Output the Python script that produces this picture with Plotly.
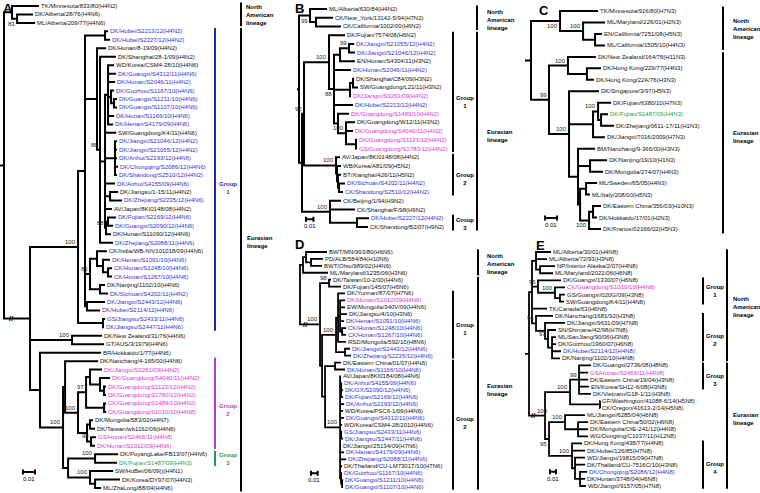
import plotly.graph_objects as go

FIG_W, FIG_H = 760, 493
FONT = "Liberation Sans, Arial, Helvetica, sans-serif"

# ---------------------------------------------------------------- data
LEAVES_A = [
    "TK/Minnesota/833/80(H4N2)", "DK/Alberta/28/76(H4N6)", "ML/Alberta/209/77(H4N6)",
    "DK/Hubei/S2213/12(H4N2)", "DK/Hubei/S2227/12(H4N2)", "DK/Hunan/8-19/09(H4N2)",
    "DK/Shanghai/28-1/09(H4N2)", "WD/Korea/CSM4-28/10(H4N6)", "DK/Guangxi/S4312/11(H4N6)",
    "DK/Hunan/S2046/11(H4N2)", "DK/Guizhou/S1167/10(H4N6)", "DK/Guangxi/S1211/10(H4N6)",
    "DK/Guangxi/S1107/10(H4N6)", "DK/Hunan/S1166/10(H4N6)", "DK/Henan/S4179/09(H4N6)",
    "SW/Guangdong/K4/11(H4N6)", "DK/Jiangxi/S21046/12(H4N2)", "DK/Jiangxi/S21055/12(H4N2)",
    "DK/Anhui/S2193/12(H4N6)", "DK/Chongqing/S2086/12(H4N6)", "DK/Shandong/S2510/12(H4N2)",
    "DK/Anhui/S4155/09(H4N6)", "DK/Jiangsu/1-15/11(H4N2)", "DK/Zhejiang/S2235/12(H4N6)",
    "AV/Japan/8KI0148/08(H4N2)", "DK/Fujian/S2169/12(H4N6)", "DK/Guangxi/S2090/12(H4N6)",
    "DK/Hunan/S11090/12(H4N6)", "DK/Zhejiang/S2088/11(H4N6)", "CK/India/WB-NIV101018/09(H4N6)",
    "DK/Henan/S1091/10(H4N6)", "CK/Hunan/S1248/10(H4N6)", "CK/Hunan/S1267/10(H4N6)",
    "DK/Nanjing/1102/10(H4N6)", "DK/Sichuan/S4202/11(H4N2)", "DK/Jiangxi/S2443/12(H4N6)",
    "DK/Hubei/S2114/12(H4N6)", "GS/Jiangsu/S2433/11(H4N6)", "DK/Jiangsu/S2447/11(H4N6)",
    "DK/New Zealand/31/76(H4N6)", "GT/AUS/3/1979(H4N6)", "BR/Hokkaido/1/77(H4N6)",
    "DK/Nanchang/4-165/00(H4N6)", "DK/Jiangxi/S3261/09(H4N2)", "DK/Guangdong/S4040/11(H4N2)",
    "DK/Guangdong/S1123/12(H4N2)", "DK/Guangdong/S1780/12(H4N2)", "CK/Guangdong/S1489/10(H4N2)",
    "CK/Guangdong/S1010/10(H4N8)", "DK/Mongolia/583/02(H4N7)", "DK/Taiwan/wb1162/06(H4N6)",
    "GS/Hunan/S2466/11(H4N8)", "DK/Hunan/S1012/09(H4N6)", "DK/PoyangLake/FB13/07(H4N6)",
    "DK/Fujian/S1487/09(H4N3)", "SW/HuBei/06/09()(H4N1)", "DK/Korea/DY97/07(H4N3)",
    "ML/ZhaLong/88/04(H4N6)",
]
COLORS_A = "kkkbbkkkbbbbbbbkbbbbbbkbkbbkbkbbbkbbbbbkkkkmmmmmmkkmmkgkkk"

LEAVES_B = [
    "ML/Alberta/630/84(H4N2)", "CK/New_York/13142-5/94(H7N2)", "CK/California/1002/00(H6N2)",
    "DK/Fujian/7574/08(H6N2)", "DK/Jiangxi/S21055/12(H4N2)", "DK/Jiangxi/S21046/12(H4N2)",
    "EN/Hunan/S4304/11(H3N2)", "DK/Hunan/S2046/11(H4N2)", "DK/Shanghai/C84/09(H3N2)",
    "SW/Guangdong/L21/11(H3N2)", "DK/Jiangxi/S3261/09(H4N2)", "DK/Hubei/S2213/12(H4N2)",
    "DK/Guangdong/S1489/10(H4N2)", "DK/Guangdong/W12/11(H3N2)", "DK/Guangdong/S4040/11(H4N2)",
    "DK/Guangdong/S1123/12(H4N2)", "GS/Guangdong/S1780/12(H4N2)", "AV/Japan/8KI0148/08(H4N2)",
    "WB/Korea/A81/09(H5N2)", "BT/Xianghai/426/11(H5N2)", "DK/Sichuan/S4202/11(H4N2)",
    "CK/Shandong/S2510/12(H4N2)", "CK/Beijing/1/94(H9N2)", "CK/Shanghai/F/98(H9N2)",
    "DK/Hubei/S2227/12(H4N2)", "CK/Shandong/B2/07(H9N2)",
]
COLORS_B = "kkkkbbkbkkmbmkmmmkkkbbkkbk"

LEAVES_C = [
    "TK/Minnesota/916/80(H7N3)", "ML/Maryland/226/01(H2N3)", "EN/California/7251/08(H5N3)",
    "ML/California/1505/10(H4N3)", "DK/New Zealand/164/76(H11N3)", "DK/Hong Kong/229/77(H4N3)",
    "DK/Hong Kong/22A/76(H3N3)", "DK/Singapore/3/97(H5N3)", "DK/Fujian/6380/10(H7N3)",
    "DK/Fujian/S1487/09(H4N3)", "DK/Zhejiang/0611-17/11(H1N3)", "DK/Jiangxi/7016/2009(H7N3)",
    "BM/Nanchang/9-366/00(H3N3)", "DK/Nanjing/19/10(H1N3)", "DK/Mongolia/274/07(H4N3)",
    "ML/Sweden/65/05(H4N3)", "ML/Italy/208/00(H5N3)", "DK/Eastern China/356/03(H10N3)",
    "DK/Hokkaido/17/01(H2N3)", "DK/France/02166/02(H5N3)",
]
COLORS_C = "kkkkkkkkkgkkkkkkkkkk"

LEAVES_D = [
    "BWT/MN/993/80(H6N6)", "PD/ALB/584/84(H10N6)", "BWT/Ohio/989/02(H4N6)",
    "ML/Maryland/1235/06(H3N6)", "DK/Taiwan/10-2/00(H4N6)", "DK/Fujian/145/07(H6N6)",
    "DK/Yunnan/87/07(H7N6)", "DK/Hunan/S1012/09(H4N6)", "EW/Mongolia/340V/09(H4N6)",
    "DK/Jiangsu/4/10(H3N6)", "DK/Henan/S1091/10(H4N6)", "CK/Hunan/S1248/10(H4N6)",
    "CK/Hunan/S1267/10(H4N6)", "RSD/Mongolia/592/10(H8N6)", "DK/Jiangxi/S2443/12(H4N6)",
    "DK/Zhejiang/S2235/12(H4N6)", "DK/Eastern China/01/07(H4N6)", "DK/Hunan/S1166/10(H4N6)",
    "AV/Japan/8KI0184/08(H4N6)", "DK/Anhui/S4155/09(H4N6)", "DK/GX/S2090/12(H4N6)",
    "DK/Fujian/S2169/12(H4N6)", "DK/Anhui/S2193/12(H4N6)", "WD/Korea/PSC6-1/09(H4N6)",
    "DK/Guangxi/S4312/11(H4N6)", "WD/Korea/CSM4-28/2010(H4N6)", "GS/Jiangsu/S2433/11(H4N6)",
    "DK/Jiangsu/S2447/11(H4N6)", "DK/Jiangxi/25134/09(H7N6)", "DK/Henan/S4179/09(H4N6)",
    "DK/Zhejiang/S2088/11(H4N6)", "DK/Thailand/CU-LM7301T/10(H7N6)", "DK/Guizhou/S1167/10(H4N6)",
    "DK/Guangxi/S1211/10(H4N6)", "DK/Guangxi/S1107/10(H4N6)",
]
COLORS_D = "kkkkkkkmkkbbbkbbkbkbbbbkbkbbkbbkbbb"

LEAVES_E = [
    "ML/Alberta/30/01(H4N8)", "ML/Alberta/72/93(H3N8)", "NP/Interior Alaska/2/07(H4N8)",
    "ML/Maryland/2022/06(H6N8)", "DK/Guangxi/1330/07(H6N8)", "CK/Guangdong/S1010/10(H4N8)",
    "GS/Guangxi/020G/09(H3N8)", "SW/Guangdong/K4/11(H4N8)", "TK/Canada/63(H6N8)",
    "DK/Nanchang/1681/92(H3N8)", "DK/Jiangxi/9631/09(H7N8)", "SN/Shimane/42/98(H7N8)",
    "ML/SanJiang/90/06(H3N8)", "DK/Guizhou/1960/07(H6N8)", "DK/Hubei/S2114/12(H4N8)",
    "DK/Nanjing/1102/10(H4N8)", "DK/Guangxi/2736/08(H8N8)", "GS/Hunan/S2466/11(H4N8)",
    "DK/Eastern China/19/04(H3N8)", "EN/Korea/SH12-6/08(H3N8)", "DK/Vietnam/G18-1/11(H3N8)",
    "GF/Washington/41088-6/14(H5N8)", "CK/Oregon/41613-2/14(H5N8)", "ML/Jiangxi/6285/04(H6N8)",
    "DK/Eastern China/50/02(H6N8)", "DK/Mongolia/OIE-241/12(H4N8)", "WG/Dongting/C1037/11(H12N8)",
    "DK/Hong Kong/438/77(H4N8)", "DK/Hubei/126/85(H7N8)", "WD/Jiangxi/19815/09(H7N8)",
    "DK/Thailand/CU-7516C/10(H3N8)", "DK/Chongqing/S2086/12(H4N8)", "DK/Hunan/3748/04(H6N8)",
    "WD/Jiangxi/9157/05(H7N8)",
]
COLORS_E = "kkkkkmkkkkkkkkbkkmkkkkkkkkkkkkkbkk"

# Trees: leaf tokens are indices into the leaf lists; branch lengths in 0.001
# substitutions/site; internal labels = bootstrap ('v' printed below, '>' nudged right,
# '!' broken branch)
TREE_A = """
(
  (0:22.5,(1:13.3,2:15.0)83v:4.2):6.7,
  (
    (
      (
        (3:2.5,4:4.2):16.7,
        (5:7.5,
          (6:13.3,
            (
              (7:5.0,8:6.7,9:5.8,(10:2.5,(11:2.5,12:2.5):2.5):2.5,13:5.0,14:4.2):2.5,
              15:9.2,
              (16:1.7,17:1.7,18:1.7,19:2.5,20:1.7):8.3,
              21:8.3,
              (22:6.7,23:10.0):4.2,
              24:5.8,
              ((25:6.7,26:4.2):1.7,27:4.2)88:0.8
            ):4.2,
            28:10.8
          )88:2.5
        ):10.0,
        (
          (29:8.3,(30:5.8,(31:3.3,32:3.3):4.2):5.0):5.8,
          (33:4.2,34:6.7):8.3
        )86:4.2,
        (35:15.0,36:10.8):1.7
      ):5.8,
      (37:1.7,38:0.8):20.8
    )100:40.0,
    (39:25.0,40:26.7)100:35.0,
    (41:50.8,
      (
        (42:27.5,
          (
            (
              (43:10.0,(44:8.3,(45:1.7,46:1.7):3.3):8.3):3.3,
              (47:1.7,48:1.7):15.0
            )97:6.7,
            ((49:2.5,50:4.2):2.5,(51:4.2,52:3.3)98:3.3):7.5
          )100:10.8
        ):1.7,
        (
          (53:19.2,54:18.3)100:22.5,
          (55:19.2,(56:20.8,57:5.0):4.2)100:18.3
        ):4.2
      )100:19.2
    ):8.3
  )!:21.7
);
"""

TREE_B = """
(
  (0:22.7,(1:22.7,2:33.3):8.0)99v:14.7,
  (
    (
      (3:21.3,
        (
          ((4:6.7,5:8.0)99:12.0,6:20.0):8.0,
          7:22.7,
          ((8:1.3,9:6.7):4.0,10:1.3):21.3,
          11:25.3,
          (12:14.7,(13:12.0,14:9.3,(15:1.3,16:1.3):13.3)100:10.7):5.3
        )88v:6.7
      )100:33.3,
      (17:5.3,(18:5.3,(19:4.0,(20:8.0,21:5.3):1.3):1.3):1.3)100:42.7
    )92:2.7,
    (22:14.7,23:33.3,(24:16.0,25:14.7):36.0)100:37.3
  ):4.0
);
"""

TREE_C = """
(
  (0:31.7,(1:18.3,(2:5.8,3:8.3):10.0)100:19.2)100v:24.2,
  (
    (4:23.3,(5:11.7,6:5.8):15.8)100:15.8,
    (7:25.0,
      ((8:10.8,(9:5.8,10:10.8):2.5)100:4.2,11:10.0):20.0,
      (12:14.2,(13:14.2,14:10.8):10.0,
        ((15:9.2,16:3.3):5.0,((17:6.7,18:3.3):3.3,19:10.0)100v:7.5):1.7
      ):7.5
    )100:16.7
  )99:15.0
);
"""

TREE_D = """
(
  ((0:31.3,(1:17.9,2:16.4):7.5):4.5,3:37.3):4.5,
  (
    (4:3.0,5:17.9)98:13.4,
    (
      (
        (6:10.4,(7:7.5,8:7.5,9:10.4,10:6.0,(11:6.0,12:6.0):3.0):3.0,13:11.9):3.0,
        (14:7.5,15:9.0):13.4
      )100:20.9,
      (
        (16:9.0,17:14.9):14.9,
        (18:1.5,(19:1.5,20:3.0,21:3.0):1.5,22:6.0,23:4.5,24:6.0,25:3.0,(26:1.5,27:3.0):1.5,
         28:1.5,29:6.0,30:9.0,31:3.0,(32:1.5,(33:1.5,34:1.5):1.5):1.5)100:22.4
      ):4.5
    ):3.0
  )100!:29.9
);
"""

TREE_E = """
(
  (
    (0:25.0,1:18.3,(2:25.0,3:21.7):6.7):6.7,
    (4:38.3,(5:16.7,(6:8.3,7:6.7):8.3)100:28.3)96:10.0,
    8:25.0,
    (9:28.3,(10:33.3,(11:13.3,(12:6.7,13:6.7,14:15.0,15:13.3):6.7)97:5.0):15.0)94:6.7
  ):5.0,
  (
    (
      (16:20.0,17:15.0,18:15.0,19:16.7,20:20.0)99:15.0,
      (21:0.5,22:0.5):50.0
    )100:41.7,
    (
      (23:33.3,(24:16.7,25:16.7,26:16.7):21.7)100:26.7,
      (27:16.7,28:21.7,(29:16.7,30:16.7,(31:11.7,32:8.3,33:10.0):8.3):5.0)100:38.3
    )95v:6.7
  )100>!:26.7
);
"""

LEAF_COLOR = {"k": "#111111", "b": "#3333cc", "m": "#dd33dd", "g": "#22a055"}
BAR_COLOR = {"k": "#000000", "b": "#2424a8", "m": "#b23ccc", "g": "#1f9a55"}
TEXT_COLOR = {"k": "#000000", "b": "#2b2bc0", "m": "#c03ccc", "g": "#1f9a55"}

# group and lineage annotations: (text, first leaf, last leaf, colour, bar x px, text x px, text y px)
GROUPS = {
    "A": [("Group<br>1", 3, 38, "b", 215, 228, 188), ("Group<br>2", 42, 52, "m", 215, 228, 410),
          ("Group<br>3", 53, 54, "g", 215, 228, 459)],
    "B": [("Group<br>1", 3, 16, "k", 453, 465, 102), ("Group<br>2", 17, 21, "k", 453, 465, 179),
          ("Group<br>3", 24, 25, "k", 453, 465, 224)],
    "C": [],
    "D": [("Group<br>1", 6, 15, "k", 453, 465, 329), ("Group<br>2", 16, 34, "k", 453, 465, 423)],
    "E": [("Group<br>1", 4, 7, "k", 703, 715, 291), ("Group<br>2", 9, 15, "k", 703, 715, 340),
          ("Group<br>3", 16, 19, "k", 703, 715, 380), ("Group<br>4", 27, 33, "k", 703, 715, 468)],
}
NA_TXT, EU_TXT = "North<br>American<br>lineage", "Eurasian<br>lineage"
LINEAGES = {
    "A": [(NA_TXT, 0, 2, 241, 244, 15), (EU_TXT, 3, 57, 241, 245, 242)],
    "B": [(NA_TXT, 0, 2, 477, 485, 20), (EU_TXT, 3, 25, 477, 485, 136)],
    "C": [(NA_TXT, 0, 3, 723, 731, 29), (EU_TXT, 4, 19, 723, 731, 137)],
    "D": [(NA_TXT, 0, 3, 478, 485, 264), (EU_TXT, 4, 34, 478, 485, 390)],
    "E": [(NA_TXT, 0, 15, 727, 731, 307), (EU_TXT, 16, 33, 727, 731, 419)],
}

# panel layout (pixels of the 760x493 page)
PANELS = [
    dict(key="A", leaves=LEAVES_A, colors=COLORS_A, tree=TREE_A, ppu=1.2, root_px=4,
         x_px=(0, 300), y_px=(6, 488), stub=3.3, lw=2.0, scale=(15.8, 55.1), letter=(8, 8)),
    dict(key="B", leaves=LEAVES_B, colors=COLORS_B, tree=TREE_B, ppu=0.75, root_px=299,
         x_px=(296, 510), y_px=(9, 227), stub=2.7, lw=2.0, scale=(9.3, 24.1), letter=(299, 8)),
    dict(key="C", leaves=LEAVES_C, colors=COLORS_C, tree=TREE_C, ppu=1.2, root_px=531,
         x_px=(515, 760), y_px=(11, 229), stub=5.0, lw=2.0, scale=(11.7, 18.05), letter=(544, 10)),
    dict(key="D", leaves=LEAVES_D, colors=COLORS_D, tree=TREE_D, ppu=0.67, root_px=300,
         x_px=(296, 510), y_px=(252, 487), stub=0.0, lw=1.8, scale=(16.4, 32.0), letter=(299, 244)),
    dict(key="E", leaves=LEAVES_E, colors=COLORS_E, tree=TREE_E, ppu=0.6, root_px=529,
         x_px=(515, 760), y_px=(252, 486), stub=6.7, lw=1.8, scale=(35.0, 31.0), letter=(540, 245)),
]


# ---------------------------------------------------------------- tree helpers
def parse_newick(text):
    s = "".join(text.split())
    pos = 0

    def read_node():
        nonlocal pos
        node = {"children": [], "label": "", "length": 0.0, "leaf": None}
        if s[pos] == "(":
            pos += 1
            while True:
                node["children"].append(read_node())
                ch = s[pos]
                pos += 1
                if ch == ")":
                    break
        start = pos
        while pos < len(s) and s[pos] not in ",():;":
            pos += 1
        token = s[start:pos]
        if node["children"]:
            node["label"] = token
        else:
            node["leaf"] = int(token)
        if pos < len(s) and s[pos] == ":":
            pos += 1
            start = pos
            while pos < len(s) and s[pos] not in ",();":
                pos += 1
            node["length"] = float(s[start:pos])
        return node

    return read_node()


def place(node, x_parent=0.0):
    node["x"] = x_parent + node["length"]
    if node["children"]:
        for c in node["children"]:
            place(c, node["x"])
        node["y"] = (node["children"][0]["y"] + node["children"][-1]["y"]) / 2.0
    else:
        node["y"] = float(node["leaf"])


def all_nodes(node, out):
    out.append(node)
    for c in node["children"]:
        all_nodes(c, out)
    return out


def px_x(px):
    return px / FIG_W


def px_y(px):
    return 1 - px / FIG_H


# ---------------------------------------------------------------- figure
fig = go.Figure()
annotations, shapes = [], []

for i, P in enumerate(PANELS, start=1):
    sfx = "" if i == 1 else str(i)
    xr, yr = "x" + sfx, "y" + sfx
    n = len(P["leaves"])
    assert len(P["colors"]) == n
    yf, yl = P["y_px"]
    sp = (yl - yf) / (n - 1)
    x0, x1 = P["x_px"]
    fig.update_layout({
        "xaxis" + sfx: dict(domain=[px_x(x0), px_x(x1)],
                            range=[(x0 - P["root_px"]) / P["ppu"], (x1 - P["root_px"]) / P["ppu"]],
                            visible=False, anchor=yr, fixedrange=True),
        "yaxis" + sfx: dict(domain=[px_y(yl + sp / 2), px_y(yf - sp / 2)],
                            range=[n - 0.5, -0.5], visible=False, anchor=xr, fixedrange=True),
    })

    root = parse_newick(P["tree"])
    place(root)
    nodes = all_nodes(root, [])

    xs, ys = [], []
    if P["stub"] > 0:
        xs += [-P["stub"], 0, None]
        ys += [root["y"], root["y"], None]
    for nd in nodes:
        ch = nd["children"]
        if not ch:
            continue
        f, l = ch[0], ch[-1]
        xs += [f["x"], nd["x"], nd["x"], l["x"], None]
        ys += [f["y"], f["y"], l["y"], l["y"], None]
        for c in ch[1:-1]:
            xs += [nd["x"], c["x"], None]
            ys += [c["y"], c["y"], None]
        # broken branches
        for c in ch:
            if "!" in c["label"]:
                annotations.append(dict(x=nd["x"] + 0.28 * (c["x"] - nd["x"]), y=c["y"], xref=xr, yref=yr,
                                        text="<b>//</b>", showarrow=False, xanchor="center", yanchor="middle",
                                        borderpad=0, font=dict(size=8, color="black", family=FONT)))
    fig.add_trace(go.Scatter(x=xs, y=ys, xaxis=xr, yaxis=yr, mode="lines",
                             line=dict(color="black", width=P["lw"]), hoverinfo="skip",
                             showlegend=False))

    # leaf labels and bootstrap values
    for nd in nodes:
        if nd["leaf"] is not None:
            k = nd["leaf"]
            annotations.append(dict(x=nd["x"], y=nd["y"], xref=xr, yref=yr, text=P["leaves"][k],
                                    showarrow=False, xanchor="left", yanchor="middle", xshift=0,
                                    font=dict(size=6, color=LEAF_COLOR[P["colors"][k]], family=FONT)))
        else:
            digits = "".join(c for c in nd["label"] if c.isdigit())
            if digits:
                below = "v" in nd["label"]
                annotations.append(dict(x=nd["x"], y=nd["y"], xref=xr, yref=yr, text=digits,
                                        showarrow=False, xanchor="right",
                                        yanchor="top" if below else "bottom",
                                        xshift=4 if ">" in nd["label"] else -1,
                                        yshift=-1 if below else 1, borderpad=0,
                                        font=dict(size=6, color="#222222", family=FONT)))

    # scale bar
    sx, sy = P["scale"]
    th = 2.5 / sp
    for (ax0, ay0, ax1, ay1) in [(sx, sy, sx + 10, sy), (sx, sy - th, sx, sy + th),
                                 (sx + 10, sy - th, sx + 10, sy + th)]:
        shapes.append(dict(type="line", xref=xr, yref=yr, x0=ax0, y0=ay0, x1=ax1, y1=ay1,
                           line=dict(color="black", width=2)))
    annotations.append(dict(x=sx + 5, y=sy, xref=xr, yref=yr, text="0.01", showarrow=False,
                            xanchor="center", yanchor="top", yshift=-2,
                            font=dict(size=6, color="black", family=FONT)))

    # group and lineage bars
    for (txt, a, b, col, bx, tx, ty) in GROUPS[P["key"]]:
        shapes.append(dict(type="line", xref="paper", yref=yr, x0=px_x(bx), x1=px_x(bx),
                           y0=a - 0.4, y1=b + 0.4, line=dict(color=BAR_COLOR[col], width=2)))
        annotations.append(dict(x=px_x(tx), y=px_y(ty), xref="paper", yref="paper",
                                text="<b>" + txt + "</b>", showarrow=False, align="center",
                                xanchor="center", yanchor="middle",
                                font=dict(size=6, color=TEXT_COLOR[col], family=FONT)))
    for (txt, a, b, bx, tx, ty) in LINEAGES[P["key"]]:
        shapes.append(dict(type="line", xref="paper", yref=yr, x0=px_x(bx), x1=px_x(bx),
                           y0=a - 0.4, y1=b + 0.4, line=dict(color="black", width=2)))
        annotations.append(dict(x=px_x(tx), y=px_y(ty), xref="paper", yref="paper",
                                text="<b>" + txt + "</b>", showarrow=False, align="left",
                                xanchor="left", yanchor="middle",
                                font=dict(size=6, color="black", family=FONT)))

    # panel letter
    lx, ly = P["letter"]
    annotations.append(dict(x=px_x(lx), y=px_y(ly), xref="paper", yref="paper",
                            text="<b>" + P["key"] + "</b>", showarrow=False,
                            xanchor="center", yanchor="middle",
                            font=dict(size=13, color="black", family=FONT)))

fig.update_layout(width=FIG_W, height=FIG_H, margin=dict(l=0, r=0, t=0, b=0),
                  paper_bgcolor="white", plot_bgcolor="white", showlegend=False,
                  annotations=annotations, shapes=shapes, font=dict(family=FONT))

PAGE_FIX = ("document.body.style.margin='0px';document.body.style.padding='0px';"
            "document.body.style.overflow='hidden';"
            "document.documentElement.style.overflow='hidden';")
fig.write_html("out.html", post_script=PAGE_FIX,
               config={"displayModeBar": False, "staticPlot": True})
